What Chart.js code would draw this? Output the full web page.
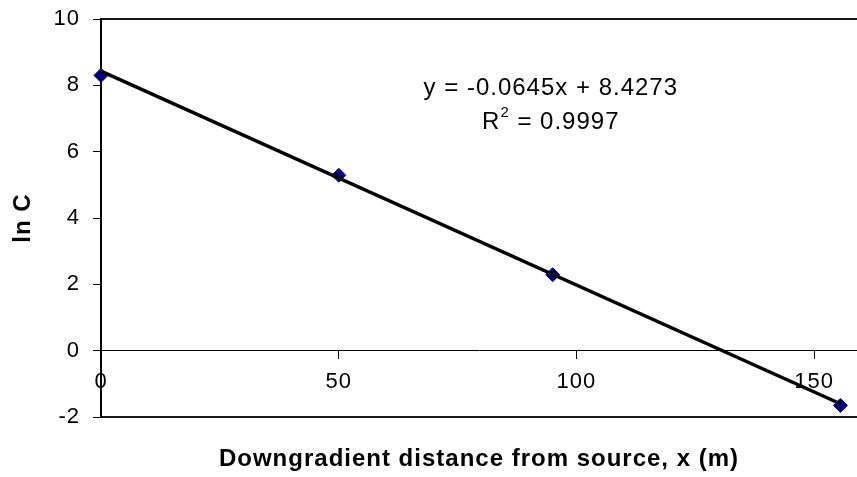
<!DOCTYPE html>
<html>
<head>
<meta charset="utf-8">
<script src="https://cdn.jsdelivr.net/npm/chart.js@4.4.0/dist/chart.umd.min.js"></script>
<style>
  body { margin: 0; background: #fff; }
  #wrap { width: 857px; height: 477px; }
</style>
</head>
<body>
<div id="wrap"><canvas id="lnChart" width="857" height="477"></canvas></div>
<script>
// measured points
const distances = [0, 50, 95, 155.5];
const lnC = [8.3, 5.29, 2.29, -1.65];
// Excel linear trendline ends
const trendX = [0, 155.5];
const trendY = [8.43, -1.6];
const xTicks = [0, 50, 100, 150];
const yTicks = [-2, 0, 2, 4, 6, 8, 10];
const equationText = 'y = -0.0645x + 8.4273';
const rSquared = '0.9997';

Chart.defaults.font.family = "'Liberation Sans', Arial, sans-serif";
Chart.defaults.color = '#000';

const labelPos = [94.6, 7.92]; // data coords of equation centre

// excel text is a bit looser than canvas text
const looseText = {
  id: 'looseText',
  beforeDraw(chart) { chart.ctx.letterSpacing = '1px'; }
};

const equationLabel = {
  id: 'equationLabel',
  afterDatasetsDraw(chart) {
    const ctx = chart.ctx;
    const cx = chart.scales.x.getPixelForValue(labelPos[0]);
    const cy = chart.scales.y.getPixelForValue(labelPos[1]);
    ctx.save();
    ctx.letterSpacing = '1px';
    ctx.fillStyle = '#000';
    ctx.textBaseline = 'middle';
    ctx.font = "24px 'Liberation Sans', Arial";
    ctx.textAlign = 'center';
    ctx.fillText(equationText, cx, cy);
    // R² line
    const rest = ' = ' + rSquared;
    const wR = ctx.measureText('R').width;
    const wRest = ctx.measureText(rest).width;
    ctx.font = "15px 'Liberation Sans', Arial";
    const w2 = ctx.measureText('2').width;
    const total = wR + w2 + wRest;
    let x0 = cx - total / 2;
    const y2 = cy + 34;
    ctx.textAlign = 'left';
    ctx.font = "24px 'Liberation Sans', Arial";
    ctx.fillText('R', x0, y2);
    ctx.font = "15px 'Liberation Sans', Arial";
    ctx.fillText('2', x0 + wR, y2 - 9);
    ctx.font = "24px 'Liberation Sans', Arial";
    ctx.fillText(rest, x0 + wR + w2, y2);
    ctx.restore();
  }
};

const setTicks = arr => s => { s.ticks = arr.map(v => ({ value: v })); };
const noEdgePad = s => { s.paddingTop = 0; s.paddingBottom = 0; s.paddingLeft = 0; s.paddingRight = 0; };

new Chart(document.getElementById('lnChart'), {
  type: 'scatter',
  data: {
    datasets: [
      {
        label: 'trend',
        data: trendX.map((x, i) => ({ x: x, y: trendY[i] })),
        showLine: true,
        borderColor: '#000',
        borderWidth: 3.5,
        pointRadius: 0,
        clip: false,
        order: 0
      },
      {
        label: 'ln C',
        data: distances.map((x, i) => ({ x: x, y: lnC[i] })),
        pointStyle: 'rectRot',
        pointRadius: 7,
        backgroundColor: '#000080',
        borderColor: '#000080',
        borderWidth: 1,
        clip: false,
        order: 1
      }
    ]
  },
  options: {
    responsive: false,
    animation: false,
    layout: { autoPadding: false, padding: { top: 19, left: 0, right: 0, bottom: 0 } },
    plugins: { legend: { display: false }, tooltip: { enabled: false } },
    scales: {
      x: {
        type: 'linear',
        position: { y: 0 },
        min: 0,
        max: 159,
        afterBuildTicks: setTicks(xTicks),
        afterFit: s => { s.height = 0; noEdgePad(s); },
        grid: { drawOnChartArea: false, drawTicks: true, tickLength: 8, color: '#000', tickColor: '#000' },
        border: { display: true, color: '#000', width: 1 },
        ticks: { font: { size: 22 }, padding: 10, maxRotation: 0, color: '#000' }
      },
      xTitle: {
        type: 'linear',
        position: 'bottom',
        min: 0,
        max: 159,
        afterFit: s => { s.height = 60; noEdgePad(s); },
        grid: { display: false },
        border: { display: true, color: '#1a1a1a', width: 2 },
        ticks: { display: false },
        title: {
          display: true,
          text: 'Downgradient distance from source, x (m)',
          font: { size: 24, weight: 'bold' },
          padding: { top: 0, bottom: 3 },
          color: '#000'
        }
      },
      xTop: {
        type: 'linear',
        position: 'top',
        min: 0,
        max: 159,
        afterFit: s => { s.height = 0; noEdgePad(s); },
        grid: { display: false },
        border: { display: true, color: '#1a1a1a', width: 2 },
        ticks: { display: false }
      },
      y: {
        type: 'linear',
        position: 'left',
        min: -2,
        max: 10,
        afterBuildTicks: setTicks(yTicks),
        afterFit: s => { s.width = 101; noEdgePad(s); },
        grid: { drawOnChartArea: false, drawTicks: true, tickLength: 8, color: '#000', tickColor: '#000' },
        border: { display: true, color: '#000', width: 2 },
        ticks: { font: { size: 22 }, padding: 13, color: '#000' },
        title: {
          display: true,
          text: 'ln C',
          font: { size: 24, weight: 'bold' },
          padding: { top: 9, bottom: 0 },
          color: '#000'
        }
      }
    }
  },
  plugins: [looseText, equationLabel]
});
</script>
</body>
</html>
